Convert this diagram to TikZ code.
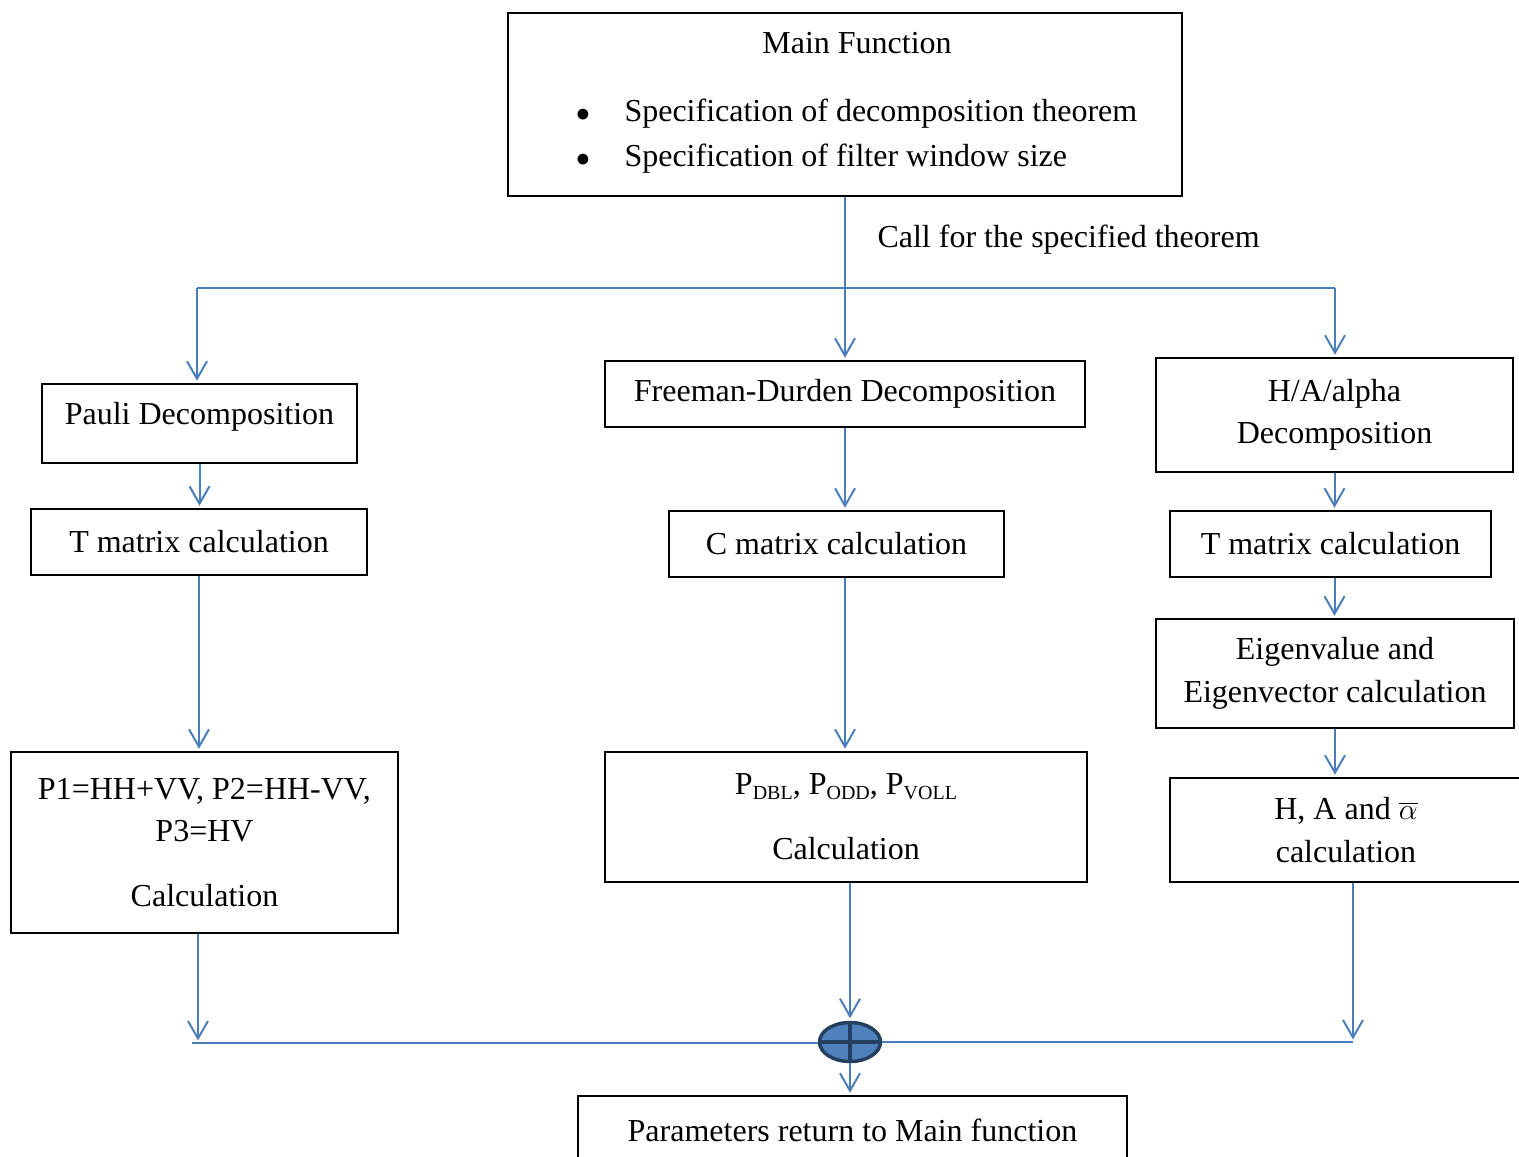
\documentclass[tikz,border=0pt]{standalone}
\usepackage{fontspec}
\setmainfont{Liberation Serif}
\usetikzlibrary{arrows.meta,shapes.geometric}
\definecolor{lineblue}{HTML}{4A7EBB}
\definecolor{sumfill}{HTML}{4F81BD}
\definecolor{sumdraw}{HTML}{243F60}

\begin{document}
\begin{tikzpicture}[x=0.4pt, y=-0.4pt,
	box/.style={draw, line width=0.6pt, inner sep=0pt, align=center, font=\fontsize{12.8}{17}\selectfont},
	lbl/.style={inner sep=0pt, font=\fontsize{12.8}{17}\selectfont},
	dot/.style={inner sep=0pt, font=\fontsize{18}{18}\selectfont, text height=12pt, text depth=0pt},
	arr/.style={draw=lineblue, line width=0.8pt, -{Straight Barb[length=7pt,width=8pt]}, shorten >=1pt},
	link/.style={draw=lineblue, line width=0.8pt},
	sum/.style={ellipse, draw=sumdraw, fill=sumfill, line width=1.4pt, minimum width=24.4pt, minimum height=15.6pt, inner sep=0pt}]
			\useasboundingbox (0,0) rectangle (1519,1156);
			\node[box, minimum width=269.6pt, minimum height=73.2pt] (main) at (845,104.5) {};
			\node[lbl] (title) at (857,43) {Main Function};
			\node[dot] (dot1) at (583,114) {\textbullet};
			\node[dot] (dot2) at (583,159) {\textbullet};
			\node[lbl, anchor=west] (spec1) at (624,114) {Specification of decomposition theorem};
			\node[lbl, anchor=west] (spec2) at (624,159) {Specification of filter window size};
			\node[lbl, anchor=west] (call) at (877,240) {Call for the specified theorem};

			\node[box, minimum width=126pt, minimum height=31.6pt, text depth=8pt] (pauli) at (199.5,423.5) {Pauli Decomposition};
			\node[box, minimum width=134.4pt, minimum height=26.4pt] (tl) at (199,542) {T matrix calculation};
			\node[box, minimum width=154.8pt, minimum height=72.4pt] (p1) at (204.5,842.5) {P1=HH+VV, P2=HH-VV,\\P3=HV\\[9pt]Calculation};

			\node[box, minimum width=192pt, minimum height=26.4pt] (fd) at (845,394) {Freeman-Durden Decomposition};
			\node[box, minimum width=134pt, minimum height=26.4pt] (cm) at (836.5,544) {C matrix calculation};
			\node[box, minimum width=192.8pt, minimum height=52pt] (pd) at (846,817) {P\raisebox{-.3ex}{\footnotesize DBL}, P\raisebox{-.3ex}{\footnotesize ODD}, P\raisebox{-.3ex}{\footnotesize VOLL}\\[9pt]Calculation};
			\node[box, minimum width=219.6pt, minimum height=27.2pt] (ret) at (852.5,1130) {Parameters return to Main function};

			\node[box, minimum width=142.8pt, minimum height=45.6pt] (ha) at (1334.5,415) {H/A/alpha\\Decomposition};
			\node[box, minimum width=128.4pt, minimum height=26.4pt] (tr) at (1330.5,544) {T matrix calculation};
			\node[box, minimum width=143.2pt, minimum height=43.6pt] (eig) at (1335,673.5) {Eigenvalue and\\Eigenvector calculation};
			\node[box, minimum width=140.8pt, minimum height=41.6pt] (hab) at (1346,830) {H, A and $\overline{\alpha}$\\calculation};

			\node[sum] (sum) at (850,1042) {};
			\draw[sumdraw, line width=1.4pt] (sum.north) -- (sum.south) (sum.west) -- (sum.east);

			\coordinate (jl) at (197,288);
			\coordinate (jr) at (1335,288);
			\coordinate (bl) at (192,1043);
			\coordinate (pl) at (198,1043);
			\coordinate (br) at (1353,1042);

			\draw[arr] (main.south) -- (fd.north);
			\draw[link] (jl) -- (jr);
			\draw[arr] (jl) -- (jl |- pauli.north);
			\draw[arr] (jr) -- (jr |- ha.north);

			\draw[arr] (pauli.south) -- (pauli.south |- tl.north);
			\draw[arr] (tl.south) -- (tl.south |- p1.north);
			\draw[arr] (fd.south) -- (fd.south |- cm.north);
			\draw[arr] (cm.south -| fd.south) -- (fd.south |- pd.north);
			\draw[arr] (ha.south) -- (ha.south |- tr.north);
			\draw[arr] (tr.south -| ha.south) -- (ha.south |- eig.north);
			\draw[arr] (eig.south) -- (eig.south |- hab.north);

			\draw[arr] (pl |- p1.south) -- (pl);
			\draw[arr] (sum.north |- pd.south) -- (sum.north);
			\draw[arr] (br |- hab.south) -- (br);
			\draw[link] (bl) -- (bl -| sum.west);
			\draw[link] (sum.east) -- (br);
			\draw[arr] (sum.south) -- (sum.south |- ret.north);
\end{tikzpicture}
\end{document}
